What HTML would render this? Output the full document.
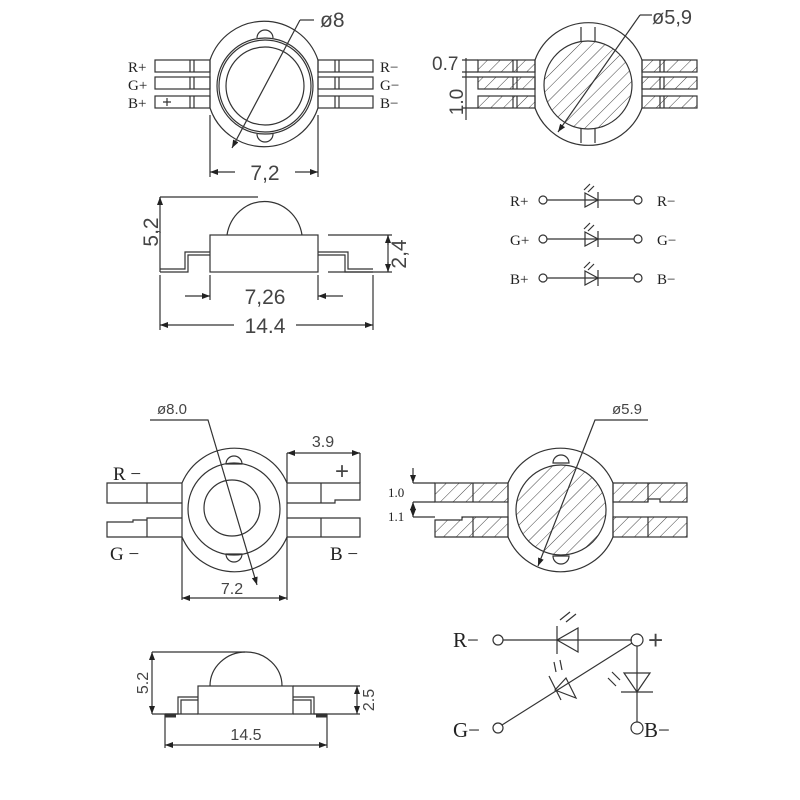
<!DOCTYPE html>
<html><head><meta charset="utf-8"><style>
html,body{margin:0;padding:0;background:#fff}
svg{display:block}
text{font-family:"Liberation Sans",sans-serif;fill:#444}
.s{font-family:"Liberation Serif",serif;fill:#222}
</style></head><body>
<svg width="800" height="800" viewBox="0 0 800 800" xmlns="http://www.w3.org/2000/svg">
<defs>
<pattern id="h" width="9" height="9" patternUnits="userSpaceOnUse" patternTransform="rotate(45)">
<line x1="0" y1="0" x2="0" y2="9" stroke="#444" stroke-width="1"/>
</pattern>
<marker id="a" markerWidth="8" markerHeight="6" refX="8" refY="3" orient="auto-start-reverse" markerUnits="userSpaceOnUse"><path d="M0,0 L8,3 L0,6z" fill="#222"/></marker>
</defs>
<g fill="none" stroke="#333" stroke-width="1.2">
<!-- TOP LEFT -->
<path d="M210,60 A57,57 0 0 1 318,60 L318,108 A57,57 0 0 1 210,108 Z"/>
<circle cx="265" cy="86" r="48"/><circle cx="265" cy="86" r="46"/><circle cx="265" cy="86" r="39"/>
<path d="M257,38 A8,8 0 0 1 273,38"/><path d="M257,134 A8,8 0 0 0 273,134"/>
<rect x="155" y="60" width="55" height="12"/><rect x="155" y="77" width="55" height="12"/><rect x="155" y="96" width="55" height="12"/>
<path d="M190,60V72M194,60V72M190,77V89M194,77V89M190,96V108M194,96V108"/>
<path d="M163,102h8M167,98v8"/>
<rect x="318" y="60" width="55" height="12"/><rect x="318" y="77" width="55" height="12"/><rect x="318" y="96" width="55" height="12"/>
<path d="M335,60V72M339,60V72M335,77V89M339,77V89M335,96V108M339,96V108"/>
<path d="M300,20L232,148" marker-end="url(#a)"/><path d="M300,20h14"/>
<path d="M210,115V177M318,115V177"/>
<path d="M210,172H235" marker-start="url(#a)"/>
<path d="M318,172H295" marker-start="url(#a)"/>
<!-- side view top -->
<path d="M227,235A38,40 0 0 1 302,235"/>
<rect x="210" y="235" width="108" height="37"/>
<path d="M160,272H188V255H210M160,269H185V252H210"/>
<path d="M373,272H345V255H318M373,269H348V252H318"/>
<path d="M160,197H258M160,197V272"/>
<path d="M160,205V197" marker-end="url(#a)"/>
<path d="M328,235H392M328,272H392M388,235V272"/>
<path d="M388,245V235" marker-end="url(#a)"/><path d="M388,262V272" marker-end="url(#a)"/>
<path d="M210,275V300M318,275V300M160,275V330M373,275V330"/>
<path d="M185,296H210" marker-end="url(#a)"/><path d="M343,296H318" marker-end="url(#a)"/>
<path d="M160,325H234" marker-start="url(#a)"/><path d="M296,325H373" marker-end="url(#a)"/>
<!-- TOP RIGHT -->
<path d="M535,60 A57,57 0 0 1 642,60 L642,108 A57,57 0 0 1 535,108 Z"/>
<circle cx="588" cy="85" r="44" fill="url(#h)"/>
<path d="M581,27V41M595,27V41M581,129V143M595,129V143"/>
<rect x="478" y="60" width="57" height="12" fill="url(#h)"/><rect x="478" y="77" width="57" height="12" fill="url(#h)"/><rect x="478" y="96" width="57" height="12" fill="url(#h)"/>
<path d="M513,60V72M517,60V72M513,77V89M517,77V89M513,96V108M517,96V108"/>
<rect x="642" y="60" width="55" height="12" fill="url(#h)"/><rect x="642" y="77" width="55" height="12" fill="url(#h)"/><rect x="642" y="96" width="55" height="12" fill="url(#h)"/>
<path d="M660,60V72M664,60V72M660,77V89M664,77V89M660,96V108M664,96V108"/>
<path d="M640,15L558,132" marker-end="url(#a)"/><path d="M640,15h12"/>
<path d="M466,58V120M462,60H478M462,72H478M462,77H478M462,108H478"/>
<!-- circuit top -->
<g>
<circle cx="543" cy="200" r="4"/><path d="M547,200H634"/><circle cx="638" cy="200" r="4"/>
<path d="M585,193L598,200L585,207Z M598,192V208"/>
<path d="M584,190l6,-6M588,192l6,-6"/>
<circle cx="543" cy="239" r="4"/><path d="M547,239H634"/><circle cx="638" cy="239" r="4"/>
<path d="M585,232L598,239L585,246Z M598,231V247"/>
<path d="M584,229l6,-6M588,231l6,-6"/>
<circle cx="543" cy="278" r="4"/><path d="M547,278H634"/><circle cx="638" cy="278" r="4"/>
<path d="M585,271L598,278L585,285Z M598,270V286"/>
<path d="M584,268l6,-6M588,270l6,-6"/>
</g>
<!-- BOTTOM LEFT -->
<path d="M182,483 A57,57 0 0 1 287,483 L287,537 A57,57 0 0 1 182,537 Z"/>
<circle cx="234" cy="509" r="46"/><circle cx="232" cy="508" r="28"/>
<path d="M226,464 A8,8 0 0 1 242,464Z"/><path d="M226,554 A8,8 0 0 0 242,554Z"/>
<path d="M182,483H107V503H182M147,483V503"/>
<path d="M182,518H147V520H133V522H107V537H182M147,518V537"/>
<path d="M287,483H360V500H335V503H287M321,483V503"/>
<path d="M287,518H360V537H287M321,518V537"/>
<path d="M287,453V483M360,453V483"/>
<path d="M287,453H360" marker-start="url(#a)" marker-end="url(#a)"/>
<path d="M150,420H208L257,585" marker-end="url(#a)"/>
<path d="M182,537V600M287,537V600"/>
<path d="M182,598H287" marker-start="url(#a)" marker-end="url(#a)"/>
<!-- side bottom -->
<path d="M210,686A36,34 0 0 1 282,686"/>
<rect x="198" y="686" width="95" height="28"/>
<path d="M165,714H178V697H198M181,714V700H198"/>
<path d="M327,714H314V697H293M311,714V700H293"/>
<path d="M165,714H198M293,714H327"/>
<path d="M165,716H176M316,716H327" stroke-width="3"/>
<path d="M152,652H245M152,714H165"/>
<path d="M152,652V714" marker-start="url(#a)" marker-end="url(#a)"/>
<path d="M293,686H360M327,714H360"/>
<path d="M357,686V714" marker-start="url(#a)" marker-end="url(#a)"/>
<path d="M165,714V748M327,714V748"/>
<path d="M165,745H327" marker-start="url(#a)" marker-end="url(#a)"/>
<!-- BOTTOM RIGHT -->
<path d="M508,483 A57,57 0 0 1 613,483 L613,537 A57,57 0 0 1 508,537 Z"/>
<circle cx="561" cy="510" r="45" fill="url(#h)"/>
<path d="M553,463 A8,8 0 0 1 569,463Z"/><path d="M553,556 A8,8 0 0 0 569,556Z"/>
<rect x="435" y="483" width="73" height="19" fill="url(#h)"/>
<path d="M473,483V502"/>
<path d="M508,517H462V520H435V537H508Z" fill="url(#h)"/><path d="M473,517V537"/>
<path d="M613,483H687V502H660V499H648V502H613Z" fill="url(#h)"/><path d="M648,483V502"/>
<rect x="613" y="517" width="74" height="20" fill="url(#h)"/><path d="M648,517V537"/>
<path d="M413,483H435M413,502H435M413,517H435"/>
<path d="M413,468V483" marker-end="url(#a)"/><path d="M413,502V517" marker-start="url(#a)" marker-end="url(#a)"/>
<path d="M648,420H595L538,566" marker-end="url(#a)"/>
<!-- circuit bottom -->
<circle cx="498" cy="640" r="5"/><path d="M503,640H632"/><circle cx="637" cy="640" r="6"/>
<path d="M578,628L557,640L578,652Z M557,626V654"/>
<path d="M560,620l10,-8M566,622l10,-8"/>
<path d="M637,646V722"/><circle cx="637" cy="728" r="6"/>
<path d="M624,673H650L637,692Z M621,692H653"/>
<path d="M620,680l-8,-8M616,686l-8,-8"/>
<circle cx="498" cy="728" r="5"/><path d="M502,725L632,643"/>
<path d="M555,690L576,698L566,678Z M549,676L561,700"/>
<path d="M556,672l-2,-10M562,670l-2,-10"/>
</g>
<!-- text -->
<g font-size="15">
<text class="s" x="128" y="72">R+</text><text class="s" x="128" y="90">G+</text><text class="s" x="128" y="108">B+</text>
<text class="s" x="380" y="72">R−</text><text class="s" x="380" y="90">G−</text><text class="s" x="380" y="108">B−</text>
<text x="320" y="27" font-size="21">ø8</text>
<text x="265" y="180" font-size="21" text-anchor="middle">7,2</text>
<text x="265" y="304" font-size="21" text-anchor="middle">7,26</text>
<text x="265" y="333" font-size="21" text-anchor="middle">14.4</text>
<text transform="translate(158,232) rotate(-90)" font-size="21" text-anchor="middle">5,2</text>
<text transform="translate(406,254) rotate(-90)" font-size="21" text-anchor="middle">2,4</text>
<text x="652" y="24" font-size="20">ø5,9</text>
<text x="432" y="70" font-size="19">0.7</text>
<text transform="translate(463,102) rotate(-90)" font-size="19" text-anchor="middle">1.0</text>
<text class="s" x="510" y="206">R+</text><text class="s" x="510" y="245">G+</text><text class="s" x="510" y="284">B+</text>
<text class="s" x="657" y="206">R−</text><text class="s" x="657" y="245">G−</text><text class="s" x="657" y="284">B−</text>
<text class="s" x="113" y="480" font-size="19">R −</text>
<text class="s" x="110" y="560" font-size="19">G −</text>
<text class="s" x="330" y="560" font-size="19">B −</text>
<text x="335" y="479" font-size="24">+</text>
<text x="323" y="447" font-size="16" text-anchor="middle">3.9</text>
<text x="157" y="414" font-size="15">ø8.0</text>
<text x="232" y="594" font-size="16" text-anchor="middle">7.2</text>
<text x="246" y="740" font-size="16" text-anchor="middle">14.5</text>
<text transform="translate(148,683) rotate(-90)" font-size="16" text-anchor="middle">5.2</text>
<text transform="translate(374,700) rotate(-90)" font-size="16" text-anchor="middle">2.5</text>
<text x="612" y="414" font-size="15">ø5.9</text>
<text class="s" x="388" y="497" font-size="13">1.0</text>
<text class="s" x="388" y="521" font-size="13">1.1</text>
<text class="s" x="453" y="647" font-size="21">R−</text>
<text class="s" x="453" y="737" font-size="21">G−</text>
<text class="s" x="644" y="737" font-size="21">B−</text>
<text x="648" y="649" font-size="26">+</text>
</g>
</svg>
</body></html>
